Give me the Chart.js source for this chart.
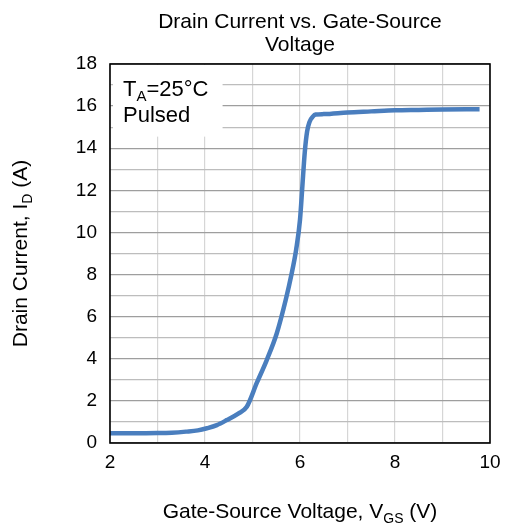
<!DOCTYPE html>
<html>
<head>
<meta charset="utf-8">
<title>Drain Current vs. Gate-Source Voltage</title>
<script src="https://cdn.jsdelivr.net/npm/chart.js@4"></script>
<style>
  body { margin: 0; background: #fff; }
  canvas { display: block; }
</style>
</head>
<body>
<canvas id="mychart" width="505" height="527"></canvas>
<script>
// Transfer curve, VGS (V) against ID (A)
const vgs = [2, 2.5, 3, 3.3, 3.6, 3.85, 4.04, 4.25, 4.46, 4.7, 4.88, 5.09, 5.3, 5.51, 5.7, 5.82, 5.92, 6.0, 6.05, 6.1, 6.15, 6.2, 6.27, 6.33, 6.5, 7, 7.5, 8, 8.5, 9, 9.5, 9.78];
const idrain = [0.46, 0.46, 0.47, 0.49, 0.54, 0.6, 0.7, 0.85, 1.09, 1.4, 1.72, 2.85, 3.94, 5.2, 6.8, 8.0, 9.2, 10.6, 12.2, 13.8, 14.8, 15.25, 15.5, 15.6, 15.62, 15.7, 15.75, 15.8, 15.82, 15.84, 15.85, 15.85];

const xTicks = [2, 4, 6, 8, 10];
const yTicks = [0, 2, 4, 6, 8, 10, 12, 14, 16, 18];

const titleLines = ["Drain Current vs. Gate-Source", "Voltage"];
const FONT = "Liberation Sans, Arial, sans-serif";

// draw text pieces, some as subscripts; align: 'left' | 'center'
function drawRich(ctx, parts, x, y, size, align) {
  ctx.save();
  ctx.textBaseline = "alphabetic";
  ctx.textAlign = "left";
  ctx.fillStyle = "#000";
  let total = 0;
  parts.forEach((p) => {
    ctx.font = (p.sub ? Math.round(size * 0.68) : size) + "px " + FONT;
    p.w = ctx.measureText(p.t).width;
    total += p.w;
  });
  let cx = align === "center" ? x - total / 2 : x;
  parts.forEach((p) => {
    ctx.font = (p.sub ? Math.round(size * 0.68) : size) + "px " + FONT;
    ctx.fillText(p.t, cx, p.sub ? y + size * 0.22 : y);
    cx += p.w;
  });
  ctx.restore();
}

const decorations = {
  id: "decorations",
  beforeDatasetsDraw(chart) {
    const { ctx, scales } = chart;
    const a = chart.chartArea;
    // white panel behind the condition note
    const x0 = a.left + 3;
    const x1 = scales.x.getPixelForValue(4.37);
    const y0 = a.top + 1;
    const y1 = scales.y.getPixelForValue(14.55);
    ctx.save();
    ctx.fillStyle = "#fff";
    ctx.fillRect(x0, y0, x1 - x0, y1 - y0);
    ctx.restore();
  },
  afterDraw(chart) {
    const { ctx } = chart;
    const a = chart.chartArea;
    const cx = (a.left + a.right) / 2;

    // plot frame
    ctx.save();
    ctx.strokeStyle = "#000";
    ctx.lineWidth = 1.6;
    ctx.strokeRect(a.left, a.top, a.right - a.left, a.bottom - a.top);
    ctx.restore();

    // title, two lines
    ctx.save();
    ctx.font = "21px " + FONT;
    ctx.fillStyle = "#000";
    ctx.textAlign = "center";
    ctx.textBaseline = "alphabetic";
    ctx.fillText(titleLines[0], cx, 28);
    ctx.fillText(titleLines[1], cx, 51);
    ctx.restore();

    // x axis title
    drawRich(ctx, [
      { t: "Gate-Source Voltage, V" },
      { t: "GS", sub: true },
      { t: " (V)" },
    ], cx, 518, 21, "center");

    // y axis title, rotated
    ctx.save();
    ctx.translate(27, (a.top + a.bottom) / 2);
    ctx.rotate(-Math.PI / 2);
    drawRich(ctx, [
      { t: "Drain Current, I" },
      { t: "D", sub: true },
      { t: " (A)" },
    ], 0, 0, 21, "center");
    ctx.restore();

    // test condition note
    drawRich(ctx, [
      { t: "T" },
      { t: "A", sub: true },
      { t: "=25°C" },
    ], a.left + 13, 96, 22, "left");
    drawRich(ctx, [{ t: "Pulsed" }], a.left + 13, 122, 22, "left");
  },
};

const ctx = document.getElementById("mychart").getContext("2d");
const mychart = new Chart(ctx, {
  type: "line",
  data: {
    datasets: [
      {
        data: vgs.map((v, i) => ({ x: v, y: idrain[i] })),
        borderColor: "rgb(74,126,190)",
        borderWidth: 4.5,
        pointRadius: 0,
        cubicInterpolationMode: "monotone",
        fill: false,
      },
    ],
  },
  options: {
    responsive: false,
    animation: false,
    layout: { padding: { top: 64, left: 70, right: 15, bottom: 54 } },
    plugins: {
      legend: { display: false },
      title: { display: false },
      tooltip: { enabled: false },
    },
    scales: {
      x: {
        type: "linear",
        min: 2,
        max: 10,
        afterFit: (s) => {
          s.height = 30;
          s.paddingLeft = 0;
          s.paddingRight = 0;
        },
        afterBuildTicks: (s) => {
          s.ticks = [2, 3, 4, 5, 6, 7, 8, 9, 10].map((v) => ({ value: v }));
        },
        ticks: {
          padding: 8,
          color: "#000",
          font: { family: FONT, size: 19 },
          callback: (v) => (xTicks.includes(v) ? String(v) : ""),
          maxRotation: 0,
          autoSkip: false,
        },
        grid: { color: "#d6d6d6", lineWidth: 1.2, drawTicks: false },
        border: { display: false },
      },
      y: {
        min: 0,
        max: 18,
        afterFit: (s) => {
          s.width = 40;
          s.paddingTop = 0;
          s.paddingBottom = 0;
        },
        afterBuildTicks: (s) => {
          s.ticks = Array.from({ length: 19 }, (_, i) => ({ value: i }));
        },
        ticks: {
          padding: 13,
          color: "#000",
          font: { family: FONT, size: 19 },
          callback: (v) => (yTicks.includes(v) ? String(v) : ""),
          autoSkip: false,
        },
        grid: {
          color: (c) => (c.tick && c.tick.value % 2 === 0 ? "#9e9e9e" : "#bdbdbd"),
          lineWidth: 1.3,
          drawTicks: false,
        },
        border: { display: false },
      },
    },
  },
  plugins: [decorations],
});
</script>
</body>
</html>
